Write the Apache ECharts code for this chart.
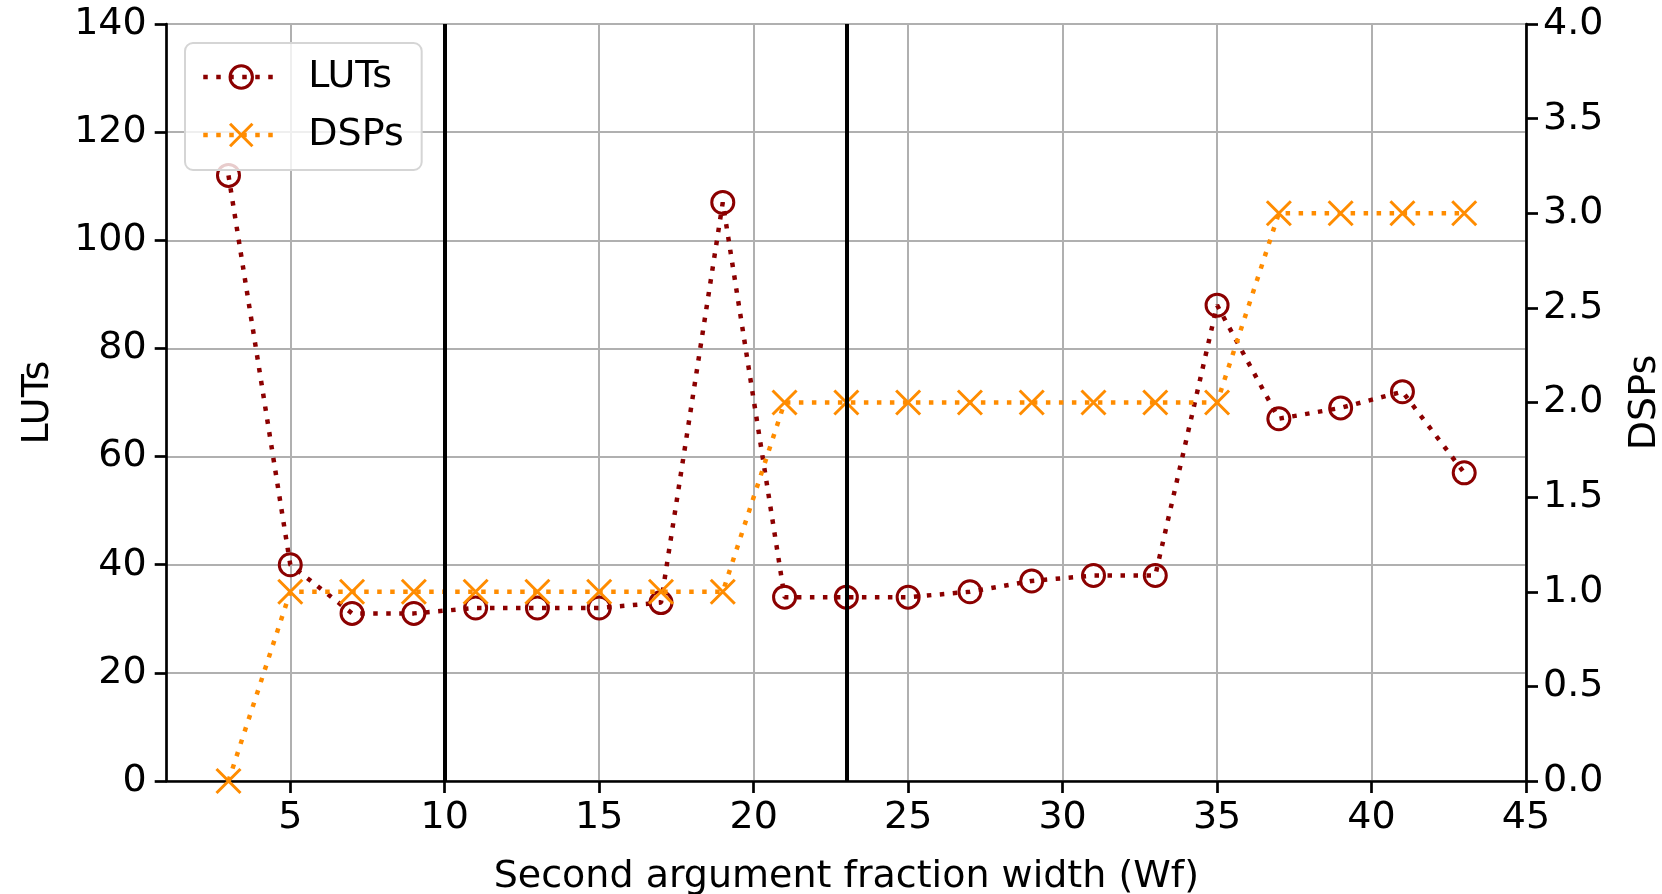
<!DOCTYPE html>
<html>
<head>
<meta charset="utf-8">
<script src="https://cdn.jsdelivr.net/npm/echarts@6/dist/echarts.min.js"></script>
<style>
html,body{margin:0;padding:0;background:#fff;}
#chart{width:1662px;height:894px;}
</style>
</head>
<body>
<div id="chart"></div>
<script>
// ---- data ----
var wf = [3,5,7,9,11,13,15,17,19,21,23,25,27,29,31,33,35,37,39,41,43];
var luts = [112,40,31,31,32,32,32,33,107,34,34,34,35,37,38,38,88,67,69,72,57];
var dsps = [0,1,1,1,1,1,1,1,1,2,2,2,2,2,2,2,2,3,3,3,3];
var xTicks = [5,10,15,20,25,30,35,40,45];
var vLines = [10,23];
var xName = 'Second argument fraction width (Wf)';
var yLeftName = 'LUTs';
var yRightName = 'DSPs';

var FONT = 'DejaVu Sans';
var FS = 38;
var lutColor = '#8b0000';
var dspColor = '#ff8c00';

var chart = echarts.init(document.getElementById('chart'), null, {renderer:'canvas'});
var axisLineStyle = {color:'#000', width:2.7};
var option = {
  backgroundColor:'#fff',
  animation:false,
  grid:{left:166.7, right:136, top:24, bottom:113, containLabel:false, outerBoundsMode:'none'},
  legend:{
    left:185, top:43, orient:'vertical',
    itemWidth:76, itemHeight:28, itemGap:20,
    padding:[15,18,16,16],
    backgroundColor:'rgba(255,255,255,0.8)',
    borderColor:'#d5d5d5', borderWidth:2, borderRadius:8,
    lineStyle:{width:4.5},
    itemStyle:{borderWidth:3},
    textStyle:{fontFamily:FONT, fontSize:FS, color:'#000', padding:[0,0,0,24]},
    data:[yLeftName, yRightName]
  },
  xAxis:{
    type:'value', min:1, max:45,
    axisLine:{lineStyle:axisLineStyle},
    axisTick:{show:true, length:12, lineStyle:{color:'#000', width:2.7}, customValues:xTicks},
    axisLabel:{fontFamily:FONT, fontSize:FS, color:'#000', margin:18, customValues:xTicks},
    splitLine:{show:true, lineStyle:{color:'#b0b0b0', width:2}},
    name:xName, nameLocation:'middle', nameGap:77,
    nameTextStyle:{fontFamily:FONT, fontSize:FS, color:'#000'}
  },
  yAxis:[{
    type:'value', min:0, max:140, interval:20, position:'left',
    axisLine:{show:true, lineStyle:axisLineStyle},
    axisTick:{show:true, length:12, lineStyle:{color:'#000', width:2.7}},
    axisLabel:{fontFamily:FONT, fontSize:FS, color:'#000', margin:20},
    splitLine:{show:true, lineStyle:{color:'#b0b0b0', width:2}},
    name:yLeftName, nameLocation:'middle', nameGap:110, nameRotate:90,
    nameTextStyle:{fontFamily:FONT, fontSize:FS, color:'#000'}
  },{
    type:'value', min:0, max:4, interval:0.5, position:'right',
    axisLine:{show:true, lineStyle:axisLineStyle},
    axisTick:{show:true, length:12, lineStyle:{color:'#000', width:2.7}},
    axisLabel:{fontFamily:FONT, fontSize:FS, color:'#000', margin:17,
      formatter:function(v){return v.toFixed(1);}},
    splitLine:{show:false},
    name:yRightName, nameLocation:'middle', nameGap:100, nameRotate:90,
    nameTextStyle:{fontFamily:FONT, fontSize:FS, color:'#000'}
  }],
  series:[{
    name:yLeftName, type:'line', yAxisIndex:0,
    data:wf.map(function(x,i){return [x,luts[i]];}),
    symbol:'circle', symbolSize:22,
    lineStyle:{color:lutColor, width:4.5, type:[4.5,8.5], cap:'butt'},
    itemStyle:{color:'rgba(255,255,255,0)', borderColor:lutColor, borderWidth:3},
    z:3,
    markLine:{
      silent:true, symbol:['none','none'], label:{show:false},
      lineStyle:{color:'#000', width:4, type:'solid'},
      data:vLines.map(function(v){return {xAxis:v};})
    }
  },{
    name:yRightName, type:'line', yAxisIndex:1,
    data:wf.map(function(x,i){return [x,dsps[i]];}),
    symbol:'path://M0,0L10,10M10,0L0,10', symbolSize:24,
    lineStyle:{color:dspColor, width:4.5, type:[4.5,8.5], cap:'butt'},
    itemStyle:{color:'rgba(255,255,255,0)', borderColor:dspColor, borderWidth:3},
    z:4
  }]
};
chart.setOption(option);
</script>
</body>
</html>
